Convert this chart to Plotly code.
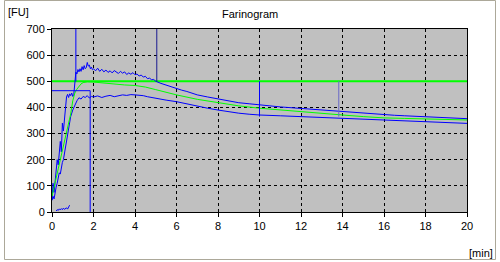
import plotly.graph_objects as go

# ---- data (minutes, FU) ----
t_upper = [0, 0.05, 0.1, 0.15, 0.2, 0.25, 0.3, 0.35, 0.4, 0.45, 0.5, 0.55, 0.6, 0.65, 0.7, 0.75,
           0.8, 0.85, 0.9, 0.95, 1.0, 1.05, 1.1, 1.15, 1.2, 1.25, 1.3, 1.35, 1.4, 1.45, 1.5,
           1.55, 1.6, 1.65, 1.7, 1.75, 1.8, 1.85, 1.9, 1.95, 2.0, 2.1, 2.2, 2.3, 2.4, 2.5,
           2.6, 2.7, 2.8, 2.9, 3.0, 3.1, 3.2, 3.3, 3.4, 3.5, 3.6, 3.7, 3.8, 3.9, 4.0, 4.1,
           4.2, 4.3, 4.4, 4.5, 4.6, 4.7, 4.8, 4.9, 5.0, 5.25, 5.5, 5.75, 6, 6.25, 6.5, 6.75,
           7, 7.5, 8, 8.5, 9, 9.5, 10, 10.5, 11, 11.5, 12, 12.5, 13, 13.5, 14, 14.5, 15,
           15.5, 16, 16.5, 17, 17.5, 18, 18.5, 19, 19.5, 20]
fu_upper = [45, 110, 75, 120, 150, 200, 180, 240, 270, 230, 340, 310, 360, 420, 440, 450,
            438, 452, 445, 455, 442, 450, 500, 535, 528, 545, 536, 548, 538, 556, 544, 560,
            548, 552, 572, 558, 562, 548, 554, 544, 548, 540, 550, 538, 546, 536, 543, 534,
            540, 532, 541, 535, 530, 538, 531, 536, 526, 532, 527, 533, 525, 528, 520, 524,
            516, 519, 510, 512, 506, 507, 500, 492, 485, 478, 473, 466, 461, 454,
            448, 440, 432, 425, 418, 414, 409, 406, 402, 399, 397, 393, 390, 387, 384, 381,
            378, 374, 371, 370, 368, 366, 365, 362, 361, 359, 357]

t_mid = [0, 0.1, 0.2, 0.3, 0.4, 0.5, 0.6, 0.7, 0.8, 0.9, 1.0, 1.1, 1.2, 1.3, 1.4, 1.5, 1.7,
         2.0, 2.5, 3.0, 3.5, 4.0, 4.5, 5.0, 5.5, 6, 7, 8, 9, 10, 11, 12, 13, 14, 15, 16, 17,
         18, 19, 20]
fu_mid = [60, 90, 130, 165, 200, 230, 270, 305, 340, 375, 425, 455, 470, 482, 490, 495, 498,
          497, 493, 488, 486, 484, 478, 468, 458, 448, 431, 418, 406, 397, 390, 384, 377, 371,
          365, 360, 358, 356, 354, 352]

t_lower = [0, 0.05, 0.1, 0.15, 0.2, 0.25, 0.3, 0.35, 0.4, 0.45, 0.5, 0.55, 0.6, 0.65, 0.7,
           0.75, 0.8, 0.85, 0.9, 1.0, 1.1, 1.2, 1.3, 1.4, 1.5, 1.6, 1.7, 1.8, 1.9, 2.0, 2.2,
           2.4, 2.6, 2.8, 3.0, 3.2, 3.4, 3.6, 3.8, 4.0, 4.2, 4.4, 4.6, 4.8, 5.0, 5.5, 6, 6.5,
           7, 7.5, 8, 8.5, 9, 9.5, 10, 11, 12, 13, 14, 15, 16, 17, 18, 19, 20]
fu_lower = [45, 60, 50, 85, 95, 110, 125, 150, 145, 170, 190, 200, 225, 250, 270,
            290, 330, 350, 365, 390, 410, 425, 437, 432, 442, 438, 445, 436, 442, 440, 444,
            438, 443, 446, 441, 445, 448, 446, 449, 448, 447, 445, 441, 438, 433, 428, 422, 413,
            405, 397, 390, 383, 378, 374, 371, 368, 365, 361, 358, 355, 352, 350, 346, 343, 339]

t_noise = [0.2, 0.25, 0.3, 0.35, 0.4, 0.45, 0.5, 0.55, 0.6, 0.65, 0.7, 0.75, 0.8, 0.85]
fu_noise = [4, 9, 6, 12, 8, 13, 9, 15, 10, 12, 16, 11, 22, 26]

# evaluation markers
ref_line_fu = 500
ref_t = [0, 20]
dev_fu = 464
dev_t_end = 1.84
arrival_t = 1.15
t5 = 5.05
t10 = 10.0
t14 = 13.82
mark_lo_10 = 365
mark_lo_14 = 365
axis_top = 700

x_ticks = list(range(0, 21, 2))
y_ticks = list(range(0, 701, 100))

BLUE = "#0000FF"
GREEN = "#00FF00"

fig = go.Figure()

def line(x, y, color, width=1):
    fig.add_trace(go.Scatter(x=x, y=y, mode="lines", line=dict(color=color, width=width),
                             hoverinfo="skip", showlegend=False))

line(ref_t, [ref_line_fu, ref_line_fu], GREEN, 2)
line(t_lower, fu_lower, BLUE)
line(t_upper, fu_upper, BLUE)
line(t_mid, fu_mid, GREEN)
line(t_noise, fu_noise, BLUE)
line([0, dev_t_end], [dev_fu, dev_fu], BLUE)
line([arrival_t, arrival_t], [ref_line_fu, axis_top], BLUE)
line([dev_t_end, dev_t_end], [dev_fu, 0], BLUE)
line([t5, t5], [ref_line_fu, axis_top], "#1a1a90")
line([t10, t10], [ref_line_fu, mark_lo_10], BLUE)
line([t14, t14], [ref_line_fu, mark_lo_14], "#6a6ac8")

W, H = 500, 262
L, R, T, B = 52, 33, 29, 50
pw, ph = W - L - R, H - T - B

def px(xp):
    return (xp - L) / pw

def py(yp):
    return (H - B - yp) / ph

axis_common = dict(showline=True, linecolor="black", linewidth=1, mirror=True,
                   ticks="outside", ticklen=4, tickcolor="black",
                   showgrid=True, gridcolor="black", gridwidth=1, griddash="3px,3px",
                   zeroline=False, tickfont=dict(family="Liberation Sans, Arial", size=11, color="black"),
                   fixedrange=True)

fig.update_xaxes(range=[0, 20], tickvals=x_ticks, **axis_common)
fig.update_yaxes(range=[0, 700], tickvals=y_ticks, **axis_common)

fig.update_layout(
    width=W, height=H,
    margin=dict(l=L, r=R, t=T, b=B, pad=0),
    paper_bgcolor="white",
    plot_bgcolor="#C0C0C0",
    showlegend=False,
    font=dict(family="Liberation Sans, Arial", size=11, color="black"),
    shapes=[dict(type="rect", xref="paper", yref="paper",
                 x0=px(4.5), x1=px(495.5), y0=py(259.5), y1=py(0.5),
                 line=dict(color="#ACA899", width=1), layer="below")],
    annotations=[
        dict(text="Farinogram", xref="paper", yref="paper", x=px(250), y=py(14),
             xanchor="center", yanchor="middle", showarrow=False, font=dict(size=11)),
        dict(text="[FU]", xref="paper", yref="paper", x=px(6), y=py(12),
             xanchor="left", yanchor="middle", showarrow=False, font=dict(size=11)),
        dict(text="[min]", xref="paper", yref="paper", x=px(495), y=py(253),
             xanchor="right", yanchor="middle", showarrow=False, font=dict(size=11)),
    ],
)

fig.write_html("out.html", config={"displayModeBar": False},
               post_script="document.body.style.margin='0';document.body.style.overflow='hidden';")
